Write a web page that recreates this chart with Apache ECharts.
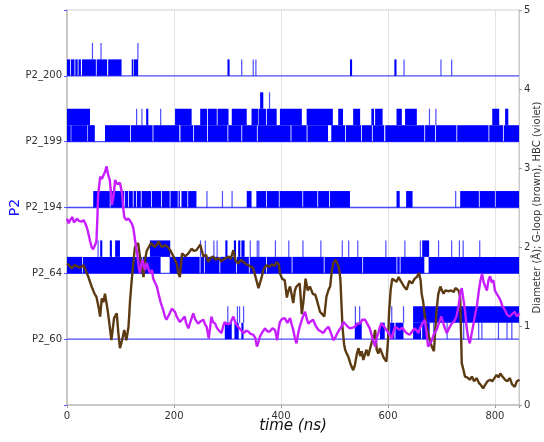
<!DOCTYPE html>
<html>
<head>
<meta charset="utf-8">
<script src="https://cdn.jsdelivr.net/npm/echarts@6/dist/echarts.min.js"></script>
<style>html,body{margin:0;padding:0;background:#fff}#c{width:544px;height:442px}</style>
</head>
<body>
<div id="c"></div>
<script>
// ---- data ----
const residues = ['P2_60', 'P2_64', 'P2_194', 'P2_199', 'P2_200'];
const xTicks = [0, 200, 400, 600, 800];
const rightTicks = [0, 1, 2, 3, 4, 5];

// contact segments per residue: [tStart, tEnd, lowLevel, highLevel]
const res200 = [
  [0,6,0,1],[7.5,14,0,1],[15.5,20,0,1],[21.5,26,0,1],[28,54,0,1],[55.5,75,0,1],[77,102,0,1],
  [46.5,48,1,2],[62.5,64,1,2],
  [121,124,0,1],[125,133,0,1],[131.5,133,1,2],
  [300,304,0,1],[325.5,327,0,1],[347,349,0,1],[352,354,0,1],
  [529,533,0,1],[612,616,0,1],[629,631,0,1],[698,700,0,1],[718,720,0,1]
];
const res199 = [
  [0,7,0,1],[8,38,0,1],[39,52,0,1],[71,118,0,1],[119.5,160,0,1],[161.5,210,0,1],[212,236,0,1],
  [237.5,262,0,1],[263.5,300,0,1],[301.5,326,0,1],[327.5,355,0,1],[356.5,418,0,1],[419.5,448,0,1],
  [449.5,488,0,1],[494,520,0,1],[521.5,550,0,1],[551.5,570,0,1],[571.5,593,0,1],[595,668,0,1],
  [669.5,688,0,1],[689.5,728,0,1],[729.5,788,0,1],[789.5,815,0,1],[816.5,847,0,1],
  [0,43,1,2],[129,130.5,1,2],[139,140.5,1,2],[148,152,1,2],[174,175.5,1,2],[202,233,1,2],
  [249,262,1,2],[263.5,280,1,2],[281.5,302,1,2],[308,336,1,2],[345,357,1,2],[358,372,1,2],
  [373.5,392,1,2],[398,439,1,2],[448,497,1,2],[507,516,1,2],[535,548,1,2],[569,574,1,2],
  [576,590,1,2],[616,626,1,2],[632,654,1,2],[676.5,678,1,2],[688.5,690,1,2],[795,808,1,2],[819,825,1,2],
  [361,367,2,3],[377.5,379,2,3]
];
const res194 = [
  [49,80,0,1],[81.5,107,0,1],[108.5,114,0,1],[115.5,123,0,1],[124.5,129,0,1],[130.5,138,0,1],
  [139.5,157,0,1],[158.5,176,0,1],[177.5,192,0,1],[193.5,207,0,1],[208.5,211,0,1],[214,225,0,1],
  [226.5,242,0,1],[260.5,262,0,1],[289.5,291,0,1],[307.5,309,0,1],[336,345,0,1],[354,372,0,1],
  [373.5,396,0,1],[397.5,440,0,1],[441.5,468,0,1],[469.5,490,0,1],[491.5,529,0,1],[616,622,0,1],
  [634,646,0,1],[725.5,727,0,1],[735,770,0,1],[771.5,800,0,1],[801.5,847,0,1]
];
const res64 = [
  [0,28,0,1],[29.5,140,0,1],[141.5,175,0,1],[192,248,0,1],[249.5,256,0,1],[257.5,285,0,1],
  [286.5,316,0,1],[317.5,340,0,1],[341.5,372,0,1],[373.5,420,0,1],[421.5,480,0,1],[481.5,552,0,1],
  [553.5,616,0,1],[617.5,622,0,1],[623.5,668,0,1],[676,847,0,1],
  [57,59,1,2],[62,66,1,2],[80,84,1,2],[90,99,1,2],[155,193,1,2],[248.5,250,1,2],[257.5,259,1,2],
  [273.5,275,1,2],[279.5,281,1,2],[296,300,1,2],[312,316,1,2],[320,324,1,2],[326,332,1,2],
  [341.5,343,1,2],[354.5,356,1,2],[357.5,359,1,2],[388.5,390,1,2],[413.5,415,1,2],[440,442,1,2],
  [473.5,475,1,2],[513.5,515,1,2],[525.5,527,1,2],[542.5,544,1,2],[595,597,1,2],[630.5,632,1,2],
  [659.5,661,1,2],[664,677,1,2],[693.5,695,1,2],[718,720,1,2],[732.5,734,1,2],[739.5,741,1,2],[770.5,772,1,2]
];
const res60 = [
  [295,308,0,1],[299.5,301,1,2],[313,321,0,1],[317.5,319,1,2],[321.5,323,1,2],[326,330,0,1],[329,330.5,1,2],
  [538,551,0,1],[538,540,1,2],[546,548,1,2],[585,594,0,1],[600,601.5,0,1],[604,612,0,1],[614,629,0,1],
  [606,608,1,2],[628,630,1,2],
  [647,662,0,1],[664,678,0,1],[647,847,1,2],[684.5,686,0,1],[709.5,711,0,1],[740.5,742,0,1],
  [768.5,770,0,1],[774.5,776,0,1],[805.5,807,0,1],[821.5,823,0,1],[830.5,832,0,1],[845,847,0,1]
];

// G-loop diameter (brown) [time ns, Å]
const gloop = [
  [0,1.79],[5,1.76],[9,1.73],[14,1.77],[18,1.76],[23,1.74],[27,1.75],[31,1.77],[34,1.76],[40,1.62],
  [46,1.50],[52,1.40],[55,1.37],[59,1.24],[62,1.12],[65,1.35],[68,1.30],[71,1.41],[76,1.20],[80,0.99],
  [83,0.82],[88,1.10],[93,1.16],[96,0.91],[99,0.72],[103,0.82],[107,0.95],[111,0.82],[115,0.99],[118,1.33],
  [121,1.58],[124,1.80],[127,2.00],[133,2.05],[137,1.85],[140,1.75],[143,1.62],[146,1.84],[149,1.95],[152,1.96],
  [157,2.05],[164,2.00],[168,2.03],[171,2.07],[177,2.00],[183,2.02],[187,2.01],[193,1.96],[199,1.88],[205,1.79],
  [208,1.67],[211,1.62],[215,1.92],[221,1.88],[227,1.92],[233,1.98],[237,1.95],[242,1.96],[249,2.03],[255,1.88],
  [260,1.90],[264,1.81],[268,1.86],[273,1.88],[278,1.84],[283,1.86],[288,1.82],[292,1.84],[297,1.86],[302,1.88],
  [306,1.85],[311,1.96],[315,1.83],[320,1.79],[325,1.84],[330,1.81],[335,1.78],[339,1.77],[344,1.75],[348,1.73],
  [351,1.66],[354,1.58],[358,1.48],[361,1.50],[364,1.62],[367,1.71],[370,1.74],[373,1.77],[378,1.75],[383,1.78],
  [388,1.76],[392,1.81],[396,1.78],[398,1.67],[402,1.60],[407,1.58],[411,1.36],[414,1.45],[417,1.50],[420,1.52],
  [423,1.29],[426,1.45],[429,1.50],[435,1.54],[439,1.15],[442,1.31],[446,1.60],[450,1.45],[454,1.50],[460,1.40],
  [464,1.40],[467,1.33],[473,1.18],[477,1.15],[481,1.12],[485,1.37],[489,1.46],[492,1.50],[495,1.70],[498,1.80],
  [502,1.84],[505,1.86],[508,1.75],[511,1.60],[515,0.99],[518,0.77],[520,0.70],[523,0.65],[526,0.61],[530,0.52],
  [535,0.44],[538,0.50],[542,0.65],[545,0.72],[548,0.62],[551,0.68],[554,0.57],[557,0.64],[560,0.70],[563,0.62],
  [566,0.61],[570,0.80],[574,0.86],[576,0.95],[579,0.70],[582,0.65],[585,0.72],[588,0.74],[592,0.60],[597,0.55],
  [600,0.80],[602,1.16],[605,1.45],[608,1.60],[612,1.58],[616,1.56],[620,1.62],[623,1.58],[626,1.60],[630,1.50],
  [635,1.46],[640,1.57],[645,1.54],[650,1.60],[654,1.62],[658,1.67],[661,1.58],[663,1.41],[666,1.30],[669,1.12],
  [672,1.00],[675,0.91],[679,0.80],[682,0.74],[686,0.68],[688,0.90],[691,1.20],[694,1.40],[698,1.50],[701,1.45],
  [704,1.41],[707,1.45],[710,1.46],[714,1.44],[718,1.45],[723,1.43],[726,1.48],[729,1.50],[732,1.45],[735,1.37],
  [738,0.53],[741,0.45],[744,0.36],[748,0.35],[753,0.32],[757,0.36],[761,0.30],[766,0.34],[770,0.28],[774,0.25],
  [778,0.21],[782,0.26],[786,0.30],[791,0.32],[795,0.30],[799,0.34],[803,0.38],[807,0.35],[810,0.40],[814,0.36],
  [819,0.32],[823,0.30],[828,0.34],[832,0.26],[837,0.23],[841,0.30],[846,0.32]
];

// HBC diameter (violet) [time ns, Å]
const hbc = [
  [0,2.36],[3,2.30],[6,2.34],[10,2.38],[13,2.31],[15,2.29],[19,2.36],[22,2.33],[27,2.32],[31,2.34],
  [34,2.30],[37,2.25],[40,2.17],[43,2.08],[46,2.00],[49,1.97],[51,1.96],[55,2.07],[57,2.40],[58,2.64],
  [62,2.89],[65,2.86],[68,2.87],[71,2.95],[74,3.02],[77,2.91],[80,2.85],[82,2.70],[84,2.53],[87,2.64],
  [90,2.85],[93,2.80],[95,2.78],[99,2.81],[103,2.68],[105,2.50],[107,2.38],[111,2.34],[115,2.36],[118,2.35],
  [121,2.30],[124,2.24],[128,2.05],[132,1.88],[134,1.75],[136,1.67],[138,1.75],[141,1.84],[144,1.75],[146,1.71],
  [149,1.80],[151,1.79],[155,1.67],[159,1.71],[161,1.60],[164,1.58],[168,1.50],[171,1.41],[175,1.30],[180,1.20],
  [183,1.12],[186,1.08],[189,1.12],[192,1.16],[196,1.22],[199,1.24],[202,1.18],[205,1.12],[208,1.10],[211,1.05],
  [215,1.08],[220,1.12],[223,1.03],[227,0.97],[231,1.06],[236,1.16],[240,1.08],[245,1.03],[250,1.06],[255,1.08],
  [258,1.02],[261,0.99],[265,0.84],[270,1.12],[273,1.05],[277,1.03],[280,0.98],[283,0.95],[286,0.93],[289,0.91],
  [292,1.00],[295,1.05],[300,1.02],[305,1.03],[308,1.08],[311,1.12],[315,1.04],[320,0.99],[325,0.95],[330,0.91],
  [335,0.94],[339,0.93],[343,0.90],[348,0.89],[352,0.85],[355,0.74],[358,0.80],[361,0.87],[365,0.92],[370,0.97],
  [375,0.93],[379,0.93],[384,0.97],[389,0.95],[393,0.82],[396,0.98],[398,1.05],[402,1.09],[407,1.10],[412,1.04],
  [417,1.10],[420,1.02],[423,0.95],[426,0.85],[429,0.78],[432,0.90],[435,0.99],[440,1.10],[445,1.18],[448,1.10],
  [451,1.03],[456,1.06],[460,1.08],[465,1.00],[470,0.95],[475,0.93],[479,0.91],[484,0.96],[489,0.99],[494,0.90],
  [498,0.82],[502,0.86],[504,0.89],[509,0.95],[513,0.99],[517,1.05],[520,1.03],[525,0.99],[529,0.97],[534,0.98],
  [538,0.99],[543,1.03],[548,1.03],[552,1.08],[557,1.08],[562,1.02],[566,0.97],[571,0.85],[576,0.74],[579,0.85],
  [582,0.91],[585,0.99],[588,1.03],[592,1.00],[597,0.95],[602,0.90],[607,0.84],[610,0.92],[613,0.99],[618,0.97],
  [622,0.95],[627,0.98],[632,0.93],[637,0.90],[641,0.89],[645,0.93],[650,0.97],[654,0.94],[657,0.91],[660,0.98],
  [663,1.01],[666,1.05],[669,1.08],[672,0.92],[675,0.74],[679,0.78],[682,0.82],[686,0.90],[691,0.95],[695,1.03],
  [700,1.12],[705,1.00],[710,0.91],[715,0.98],[719,1.03],[724,1.06],[728,1.12],[732,1.25],[735,1.41],[738,1.48],
  [741,1.50],[744,1.20],[747,0.99],[750,0.85],[753,0.78],[757,0.92],[760,1.03],[763,1.15],[766,1.24],[770,1.45],
  [773,1.58],[776,1.66],[779,1.55],[782,1.50],[785,1.45],[788,1.58],[791,1.63],[794,1.55],[797,1.58],[800,1.45],
  [803,1.41],[806,1.38],[810,1.33],[814,1.25],[819,1.20],[823,1.14],[828,1.12],[832,1.15],[837,1.18],[841,1.12],[846,1.16]
];

// ---- build ----
const LEVEL = 0.25;
const X_MAX = 845;
const segSets = [res60, res64, res194, res199, res200];
const barcode = [];
segSets.forEach((segs, i) => segs.forEach(s => barcode.push([s[0], s[1], i + 1, s[2], s[3]])));

const baselineSeries = residues.map((r, i) => ({
  type: 'line', yAxisIndex: 0, silent: true, symbol: 'none', z: 2,
  data: [[0, i + 1], [X_MAX, i + 1]],
  lineStyle: { color: '#2a2aff', width: 1.3, opacity: 0.85 }
}));

const chart = echarts.init(document.getElementById('c'), null, { renderer: 'canvas' });
const FONT = 'DejaVu Sans';
chart.setOption({
  animation: false,
  textStyle: { fontFamily: FONT },
  grid: { left: 67, right: 25, top: 10, bottom: 37, containLabel: false, outerBoundsMode: 'none',
          show: true, borderColor: '#cfcfcf', borderWidth: 1, backgroundColor: 'transparent' },
  xAxis: {
    type: 'value', min: 0, max: X_MAX, interval: 200,
    name: 'time (ns)', nameLocation: 'middle', nameGap: 14, nameMoveOverlap: false,
    nameTextStyle: { fontFamily: FONT, fontStyle: 'italic', fontSize: 15, color: '#111', verticalAlign: 'top' },
    axisLine: { show: true, onZero: false, lineStyle: { color: '#c8c8c8', width: 2 } },
    axisTick: { show: true, length: 3, lineStyle: { color: '#999' } },
    axisLabel: { fontSize: 10, color: '#333', margin: 6, formatter: v => xTicks.includes(v) ? String(v) : '' },
    splitLine: { show: true, lineStyle: { color: '#e2e2e2', width: 1 } }
  },
  yAxis: [
    {
      type: 'value', position: 'left', min: 0, max: 6, interval: 1,
      name: 'P2', nameLocation: 'middle', nameGap: 45, nameRotate: 90, nameMoveOverlap: false,
      nameTextStyle: { fontFamily: FONT, fontSize: 14, color: '#1010ff' },
      axisLine: { show: true, onZero: false, lineStyle: { color: '#c8c8c8', width: 2 } },
      axisTick: { show: true, length: 3, lineStyle: { color: '#5555ff' } },
      axisLabel: { fontSize: 10, color: '#333', margin: 5, formatter: v => (v >= 1 && v <= residues.length) ? residues[v - 1] : '' },
      splitLine: { show: false }
    },
    {
      type: 'value', position: 'right', min: 0, max: 5, interval: 1,
      name: 'Diameter (Å); G-loop (brown), HBC (violet)', nameLocation: 'middle', nameGap: 13, nameRotate: 90, nameMoveOverlap: false,
      nameTextStyle: { fontFamily: FONT, fontSize: 10, color: '#333' },
      axisLine: { show: true, onZero: false, lineStyle: { color: '#c8c8c8', width: 1 } },
      axisTick: { show: true, length: 3, lineStyle: { color: '#999' } },
      axisLabel: { fontSize: 10, color: '#333', margin: 5, formatter: v => rightTicks.includes(v) ? String(v) : '' },
      splitLine: { show: false }
    }
  ],
  series: [
    ...baselineSeries,
    {
      type: 'custom', yAxisIndex: 0, z: 3, silent: true, clip: true,
      data: barcode,
      encode: { x: [0, 1], y: 2 },
      renderItem: function (params, api) {
        const t0 = api.value(0), t1 = api.value(1), cat = api.value(2), lo = api.value(3), hi = api.value(4);
        const p0 = api.coord([t0, cat + lo * LEVEL]);
        const p1 = api.coord([t1, cat + hi * LEVEL]);
        const wRaw = p1[0] - p0[0];
        const w = Math.max(wRaw, 1.2);
        return {
          type: 'rect',
          shape: { x: p0[0], y: p1[1], width: w, height: p0[1] - p1[1] },
          style: { fill: '#0000ff', opacity: wRaw < 1.2 ? 0.7 : 1 }
        };
      }
    },
    {
      type: 'line', yAxisIndex: 1, data: gloop, symbol: 'none', z: 5, silent: true,
      lineStyle: { color: '#5c3a12', width: 2.4 }
    },
    {
      type: 'line', yAxisIndex: 1, data: hbc, symbol: 'none', z: 6, silent: true,
      lineStyle: { color: '#c81eff', width: 2.4 }
    }
  ]
});
</script>
</body>
</html>
